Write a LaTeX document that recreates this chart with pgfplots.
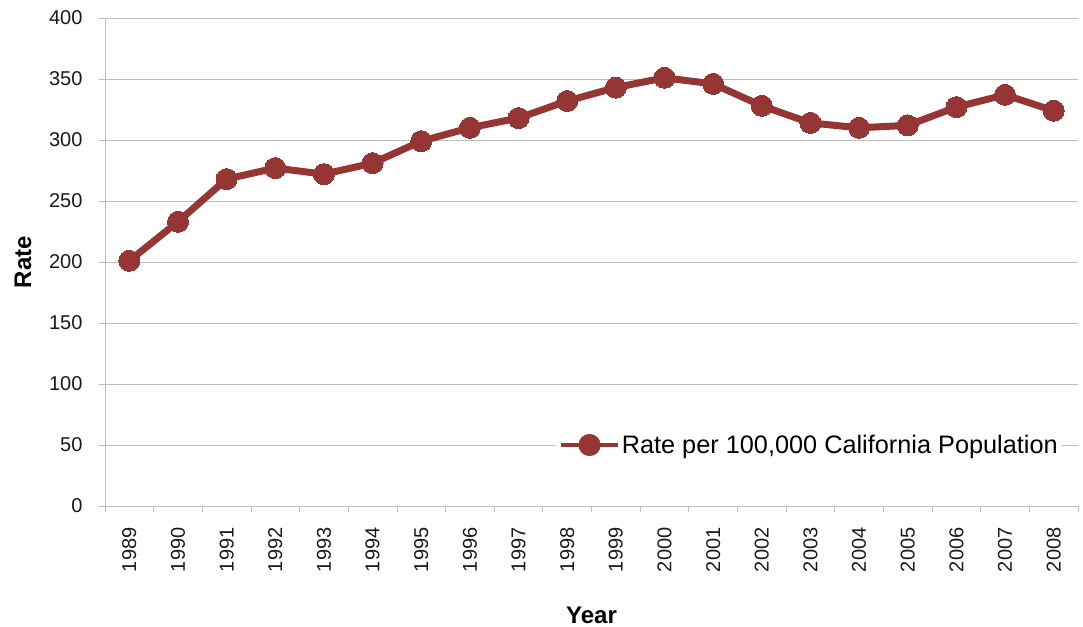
\documentclass[border=0pt]{standalone}
\usepackage{pgfplots}
\pgfplotsset{compat=1.18}
\usepackage{fontspec}
\setmainfont{Liberation Sans}
\definecolor{linered}{RGB}{150,54,52}
\definecolor{gridgray}{RGB}{190,190,190}
\pgfplotstableread{
x year rate
0 1989 201
1 1990 233
2 1991 268
3 1992 277
4 1993 272
5 1994 281
6 1995 299
7 1996 310
8 1997 318
9 1998 332
10 1999 343
11 2000 351
12 2001 346
13 2002 328
14 2003 314
15 2004 310
16 2005 312
17 2006 327
18 2007 337
19 2008 324
}\datatable
\begin{document}
\begin{tikzpicture}
\path[use as bounding box] (-105bp,-121bp) rectangle (978bp,506bp);
\begin{axis}[
  at={(0,0)}, anchor=south west,
  scale only axis,
  width=973bp, height=488bp,
  xmin=-0.5, xmax=19.5,
  ymin=0, ymax=400,
  ytick={0,50,...,400},
  xtick={0,...,19},
  xticklabels={1989,1990,1991,1992,1993,1994,1995,1996,1997,1998,1999,2000,2001,2002,2003,2004,2005,2006,2007,2008},
  minor xtick={-0.5,0.5,...,19.5},
  every major x tick/.append style={draw=none},
  axis lines*=left,
  axis line style={gridgray, line width=0.8bp},
  tick style={gridgray, line width=0.8bp},
  major tick length=6bp, minor tick length=6bp,
  tick align=outside,
  ymajorgrids,
  major grid style={gridgray, line width=0.8bp},
  /pgf/number format/assume math mode=true,
  ticklabel style={font=\fontsize{20bp}{24bp}\selectfont, text=black!90},
  xticklabel style={rotate=90, anchor=east, yshift=0bp, xshift=-12bp},
  yticklabel style={xshift=-13bp},
  xlabel={Year}, ylabel={Rate},
  label style={font=\bfseries\fontsize{24bp}{28bp}\selectfont},
  xlabel style={at={(axis description cs:0.5,-0.2234)}, anchor=center},
  ylabel style={at={(axis description cs:-0.0843,0.5)}, anchor=center},
  legend style={at={(axis cs:19.5,50)}, anchor=east, xshift=-16bp, draw=none, fill=white,
    font=\fontsize{25.3bp}{29bp}\selectfont, inner xsep=2bp, inner ysep=2bp},
  legend cell align=left,
  legend image code/.code={
    \draw[linered, line width=4.5bp] (0bp,0bp) -- (57bp,0bp);
    \fill[linered] (29bp,0bp) circle (7.5bp);
  },
]
\addplot[linered, line width=7bp, mark=*, mark size=10.5bp, mark options={fill=linered, draw=linered, line width=0bp}] table[x=x, y=rate] {\datatable};
\addlegendentry{Rate per 100,000 California Population}
\end{axis}
\end{tikzpicture}
\end{document}
